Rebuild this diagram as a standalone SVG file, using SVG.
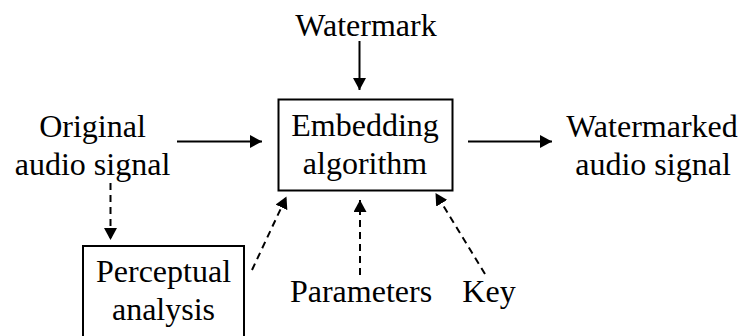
<svg xmlns="http://www.w3.org/2000/svg" width="744" height="336" viewBox="0 0 744 336">
<style>
text{font-family:"Liberation Serif","Times New Roman",serif;font-size:32px;fill:#000;text-anchor:middle}
.box{fill:#fff;stroke:#000;stroke-width:2}
.c{stroke:#000;stroke-width:2;fill:none;marker-end:url(#ah)}
.d{stroke-dasharray:7 5}
</style>
<defs>
<marker id="ah" markerUnits="userSpaceOnUse" markerWidth="13" markerHeight="13" refX="12" refY="6.5" orient="auto">
<path d="M0,0 L12,6.5 L0,13 z" fill="#000"/>
</marker>
</defs>
<rect width="744" height="336" fill="#fff"/>
<g id="connectors">
<line class="c" x1="359.5" y1="41" x2="359.5" y2="90"/>
<line class="c" x1="177" y1="141.5" x2="262" y2="141.5"/>
<line class="c" x1="468" y1="141.5" x2="552" y2="141.5"/>
<line class="c d" x1="110.5" y1="183" x2="110.5" y2="240"/>
<line class="c d" x1="252" y1="270" x2="286.5" y2="196.5"/>
<line class="c d" x1="360" y1="275" x2="360" y2="200"/>
<line class="c d" x1="485" y1="274" x2="435.5" y2="193"/>
</g>
<g id="watermark"><text x="366" y="36">Watermark</text></g>
<g id="original"><text x="92.5" y="137">Original</text><text x="92.5" y="175">audio signal</text></g>
<g id="embedding"><rect class="box" x="278.5" y="99.5" width="174" height="91"/><text x="365" y="136">Embedding</text><text x="365" y="174">algorithm</text></g>
<g id="watermarked"><text x="652" y="137">Watermarked</text><text x="653" y="175">audio signal</text></g>
<g id="perceptual"><rect class="box" x="83" y="246" width="161" height="100"/><text x="163.5" y="282">Perceptual</text><text x="163.5" y="320">analysis</text></g>
<g id="parameters"><text x="361" y="302">Parameters</text></g>
<g id="key"><text x="489" y="302">Key</text></g>
</svg>
